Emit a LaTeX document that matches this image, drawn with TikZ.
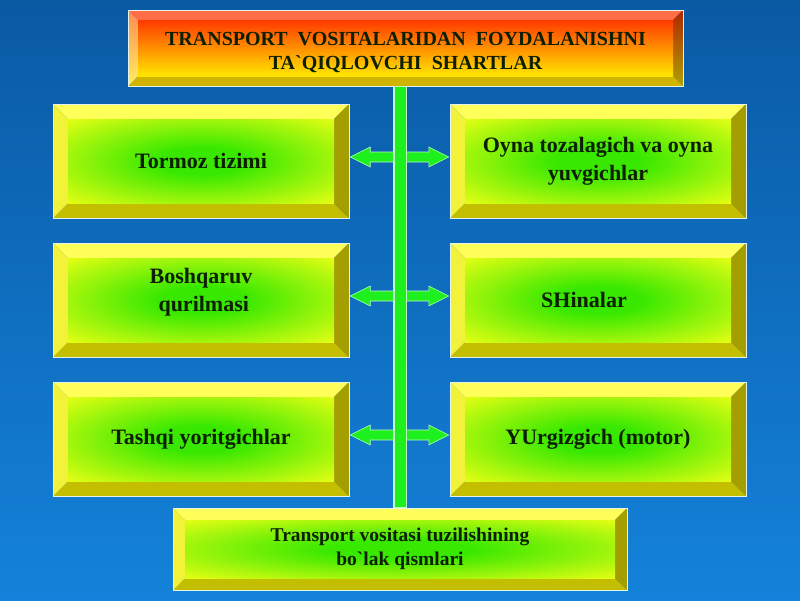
\documentclass[tikz,border=0pt]{standalone}
\usepackage{fontspec}
\newfontfamily\bodyfont{Liberation Serif}
\usetikzlibrary{calc}
\definecolor{bgA}{HTML}{0A5AA4}
\definecolor{bgM}{HTML}{0D66B6}
\definecolor{bgB}{HTML}{1482DA}
\definecolor{ytop}{HTML}{FFFF5A}
\definecolor{yleft}{HTML}{F2F23A}
\definecolor{yright}{HTML}{A49E00}
\definecolor{ybot}{HTML}{C4BE00}
\definecolor{ginner}{HTML}{38E800}
\definecolor{gouter}{HTML}{E8FF14}
\definecolor{txt}{HTML}{0C2000}
\definecolor{barg}{HTML}{1EF01E}
\definecolor{edge}{HTML}{E4F4EC}
\definecolor{baredge}{HTML}{C0F8C8}
\pgfdeclareradialshading{boxrad}{\pgfpoint{0bp}{0bp}}{color(0bp)=(ginner); color(8bp)=(ginner); color(36bp)=(gouter); color(50bp)=(gouter)}
\newcommand\ybox[5]{%
  \fill[ytop] (#1,#2) -- (#3,#2) -- ({#3-#5},{#2+#5}) -- ({#1+#5},{#2+#5}) -- cycle;
  \fill[ybot] (#1,#4) -- (#3,#4) -- ({#3-#5},{#4-#5}) -- ({#1+#5},{#4-#5}) -- cycle;
  \fill[yleft] (#1,#2) -- ({#1+#5},{#2+#5}) -- ({#1+#5},{#4-#5}) -- (#1,#4) -- cycle;
  \fill[yright] (#3,#2) -- ({#3-#5},{#2+#5}) -- ({#3-#5},{#4-#5}) -- (#3,#4) -- cycle;
  \shade[shading=boxrad] ({#1+#5},{#2+#5}) rectangle ({#3-#5},{#4-#5});
  \draw[edge, line width=1pt] (#1,#2) rectangle (#3,#4);
}
\newcommand\dblarrow[2]{%
  \path ($(#1.east)+(1,-4)$) coordinate (a#1) ($(#2.west)+(-1,-4)$) coordinate (b#1);
  \draw[arr] (a#1) -- ($(a#1)+(20,-10)$) -- ($(a#1)+(20,-5)$) -- ($(b#1)+(-20,-5)$) -- ($(b#1)+(-20,-10)$) -- (b#1)
     -- ($(b#1)+(-20,10)$) -- ($(b#1)+(-20,5)$) -- ($(a#1)+(20,5)$) -- ($(a#1)+(20,10)$) -- cycle;
}
\begin{document}
\begin{tikzpicture}[x=1pt,y=-1pt,
  tt/.style={font=\bodyfont\bfseries\fontsize{20}{24}\selectfont, text=txt, align=center, inner sep=0pt},
  st/.style={font=\bodyfont\bfseries\fontsize{19.5}{24}\selectfont, text=txt, align=center, inner sep=0pt},
  bt/.style={font=\bodyfont\bfseries\fontsize{22}{28}\selectfont, text=txt, align=center, inner sep=0pt,
             minimum width=296pt, minimum height=114pt},
  arr/.style={fill=barg, draw=baredge, line width=0.6pt},
  baro/.style={draw=baredge, line width=13.5pt},
  bari/.style={draw=barg, line width=11pt}]
\useasboundingbox (0,0) rectangle (800,600);
\shade[top color=bgA, middle color=bgM, bottom color=bgB] (0,0) rectangle (800,600);

% title box
\fill[fill={rgb,255:red,255;green,110;blue,70}] (128,10) -- (683,10) -- (673,20) -- (138,20) -- cycle;
\fill[fill={rgb,255:red,208;green,180;blue,0}] (128,86) -- (683,86) -- (673,76) -- (138,76) -- cycle;
\shade[top color={rgb,255:red,255;green,140;blue,80}, bottom color={rgb,255:red,255;green,240;blue,100}] (128,10) -- (138,20) -- (138,76) -- (128,86) -- cycle;
\shade[top color={rgb,255:red,176;green,40;blue,0}, bottom color={rgb,255:red,176;green,160;blue,0}] (683,10) -- (673,20) -- (673,76) -- (683,86) -- cycle;
\shade[top color={rgb,255:red,255;green,58;blue,0}, middle color={rgb,255:red,255;green,150;blue,0}, bottom color={rgb,255:red,255;green,230;blue,0}] (138,20) rectangle (673,76);
\draw[edge, line width=1pt] (128,10) rectangle (683,86);
\node[tt, minimum width=555pt, minimum height=76pt] (T) at (405.5,48) {};
\node[tt, anchor=center] (Ttext) at (405.5,52)
  {TRANSPORT\ \ VOSITALARIDAN\ \ FOYDALANISHNI\\TA`QIQLOVCHI\ \ SHARTLAR};

% yellow boxes
\ybox{53}{104}{349}{218}{15}
\ybox{53}{243}{349}{357}{15}
\ybox{53}{382}{349}{496}{15}
\ybox{450}{104}{746}{218}{15}
\ybox{450}{243}{746}{357}{15}
\ybox{450}{382}{746}{496}{15}
\ybox{173}{508}{627}{590}{12}

\node[bt] (L1) at (201,161) {Tormoz tizimi};
\node[bt] (L2) at (201,300) {\raisebox{2.5pt}[0pt][0pt]{\begin{tabular}{@{}c@{}}Boshqaruv\\ \ qurilmasi\end{tabular}}};
\node[bt] (L3) at (201,439) {Tashqi yoritgichlar};
\node[bt] (R1) at (598,161) {Oyna tozalagich va oyna\\yuvgichlar};
\node[bt] (R2) at (598,300) {SHinalar\hspace*{28pt}};
\node[bt] (R3) at (598,439) {YUrgizgich (motor)};
\node[st, minimum width=454pt, minimum height=82pt] (B) at (400,549)
  {Transport vositasi tuzilishining\\bo`lak qismlari};

% connectors
\dblarrow{L1}{R1}
\dblarrow{L2}{R2}
\dblarrow{L3}{R3}
\draw[baro] (T.south -| B.north) -- (B.north);
\draw[bari] ($(T.south -| B.north)+(0,1)$) -- ($(B.north)+(0,-1)$);
\end{tikzpicture}
\end{document}
